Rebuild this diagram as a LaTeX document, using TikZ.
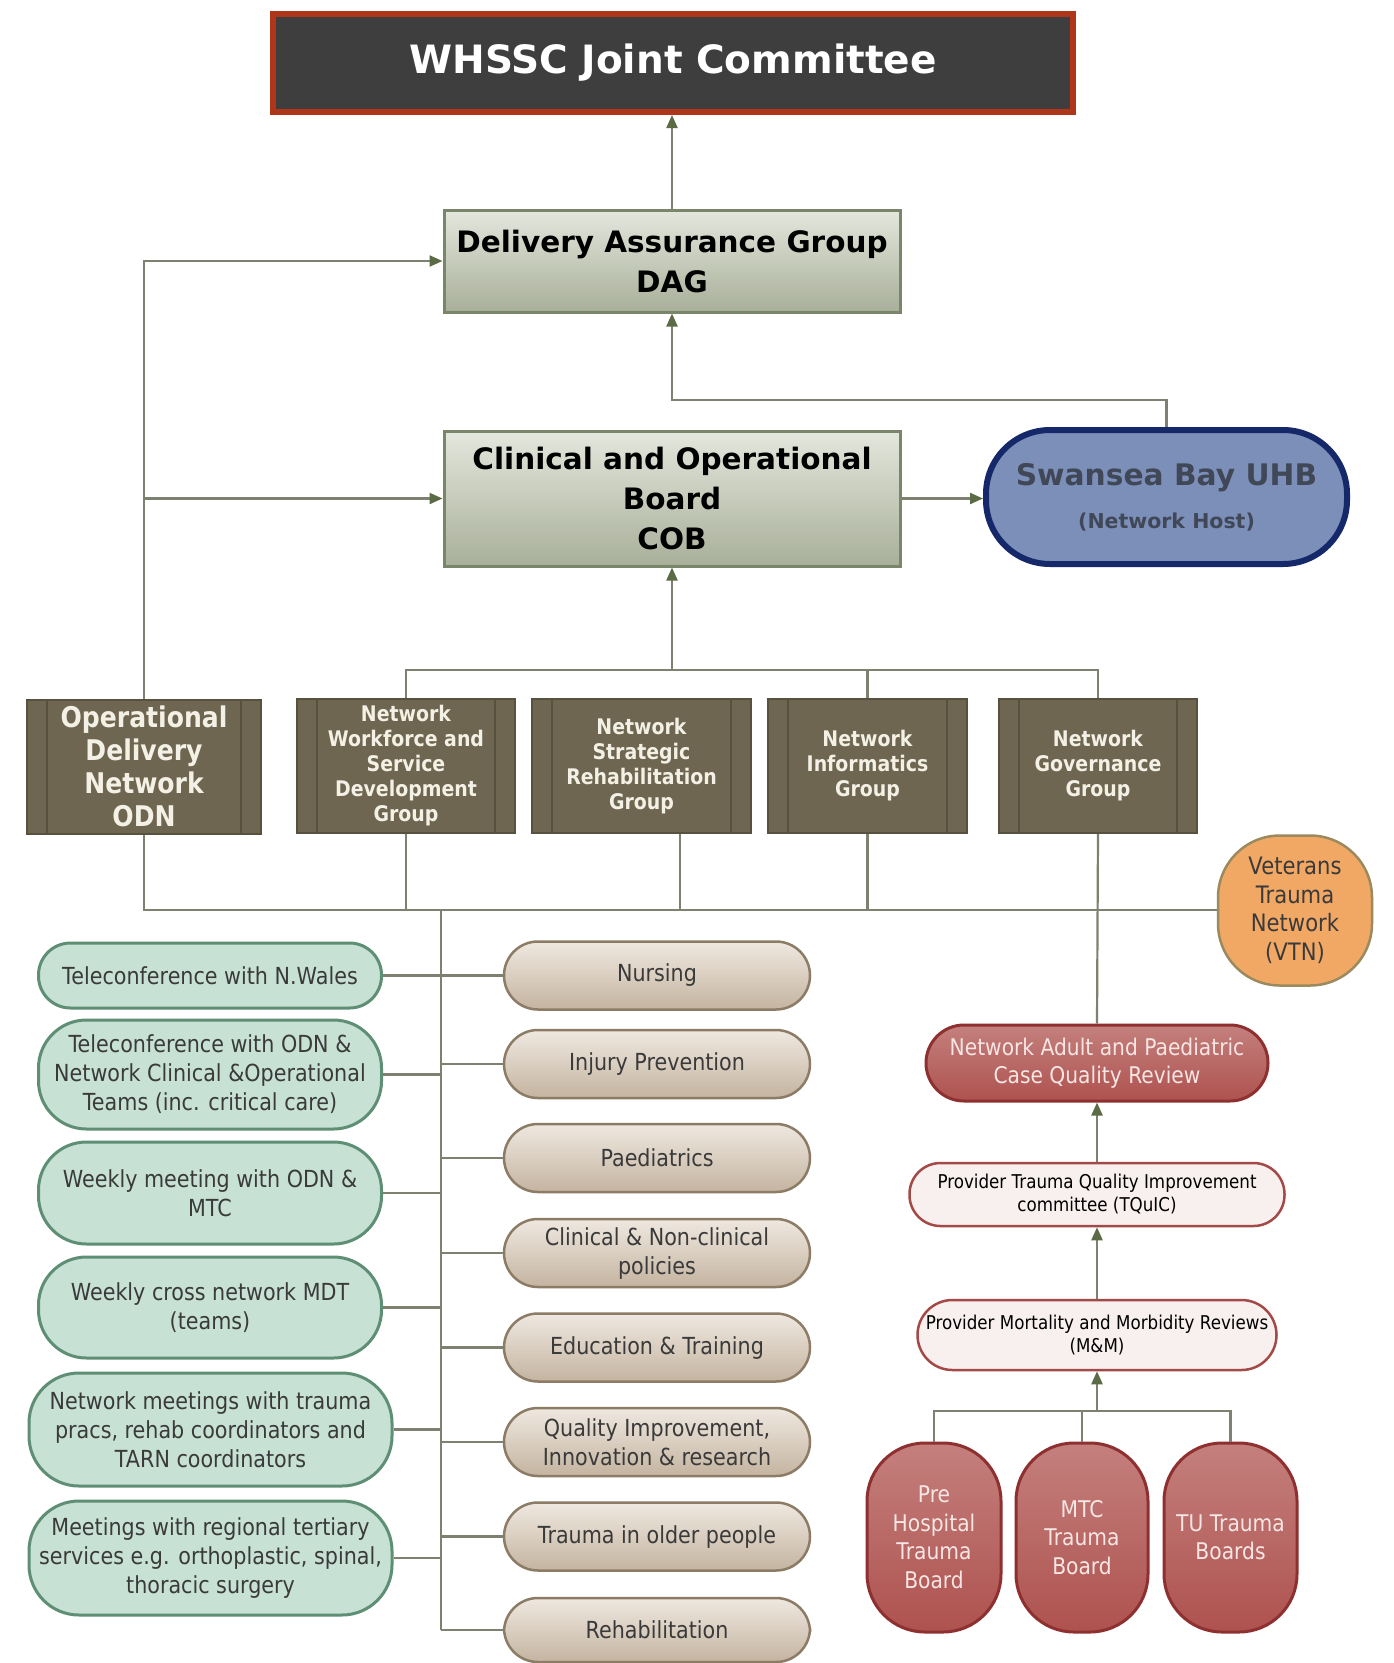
\documentclass[tikz,border=0pt]{standalone}
\usepackage{fontspec}
\setmainfont{DejaVu Sans}[FakeStretch=0.88]
\newfontfamily\widefont{DejaVu Sans}
\usetikzlibrary{arrows.meta}
\definecolor{linec}{HTML}{7D8270}
\definecolor{arrowc}{HTML}{5B6B45}
\definecolor{jcfill}{HTML}{3E3E3E}
\definecolor{jcborder}{HTML}{B0361A}
\definecolor{bdtop}{HTML}{E4E7DD}
\definecolor{bdbot}{HTML}{A8AF99}
\definecolor{bdborder}{HTML}{7A866A}
\definecolor{hostfill}{HTML}{7C8FB9}
\definecolor{hostborder}{HTML}{15286A}
\definecolor{hosttext}{HTML}{404757}
\definecolor{grpfill}{HTML}{6E6650}
\definecolor{grpborder}{HTML}{57513F}
\definecolor{grptext}{HTML}{F3F0E5}
\definecolor{greenfill}{HTML}{C7E1D5}
\definecolor{greenborder}{HTML}{5E8E74}
\definecolor{beigetop}{HTML}{EFE8E0}
\definecolor{beigebot}{HTML}{C4B4A0}
\definecolor{beigeborder}{HTML}{8C7C66}
\definecolor{bodytext}{HTML}{3A3A3A}
\definecolor{vtnfill}{HTML}{F2A865}
\definecolor{vtnborder}{HTML}{9A8A5E}
\definecolor{redtop}{HTML}{C4807D}
\definecolor{redbot}{HTML}{AE524F}
\definecolor{redborder}{HTML}{8F3030}
\definecolor{redtext}{HTML}{F5E6E4}
\definecolor{pinkfill}{HTML}{F8F0EF}
\definecolor{pinkborder}{HTML}{A34A48}
\tikzset{
  conn/.style={draw=linec, line width=2.2pt},
  arr/.style={conn, -{Triangle[length=13pt,width=11pt,color=arrowc]}},
  whssc/.style={draw=jcborder, fill=jcfill, line width=6pt, minimum width=800pt, minimum height=98pt,
    inner sep=0pt, text=white, font=\widefont\bfseries\fontsize{39}{44}\selectfont},
  board/.style={draw=bdborder, top color=bdtop, bottom color=bdbot, line width=3pt, minimum width=456pt,
    inner sep=0pt, align=center, text=black, font=\widefont\bfseries\fontsize{29.5}{40}\selectfont},
  host/.style={draw=hostborder, fill=hostfill, line width=6pt, rounded corners=64pt, minimum width=361pt,
    minimum height=134pt, inner sep=0pt, align=center, text=hosttext},
  grp/.style={draw=grpborder, fill=grpfill, line width=2pt, inner sep=0pt, align=center, text=grptext,
    minimum height=134pt, font=\bfseries\fontsize{21.5}{25}\selectfont,
    path picture={
      \draw[grpborder, line width=1.5pt] ([xshift=20pt]path picture bounding box.north west) -- ([xshift=20pt]path picture bounding box.south west);
      \draw[grpborder, line width=1.5pt] ([xshift=-20pt]path picture bounding box.north east) -- ([xshift=-20pt]path picture bounding box.south east);}},
  green/.style={draw=greenborder, fill=greenfill, line width=3pt, inner sep=0pt, align=center, text=bodytext,
    font=\fontsize{23.5}{29}\selectfont},
  beige/.style={draw=beigeborder, top color=beigetop, bottom color=beigebot, line width=2.5pt, inner sep=0pt,
    align=center, text=bodytext, minimum width=306pt, minimum height=68pt, rounded corners=34pt,
    font=\fontsize{23.5}{29}\selectfont},
  vtn/.style={draw=vtnborder, fill=vtnfill, line width=2.5pt, inner sep=0pt, align=center, text=bodytext,
    minimum width=154pt, minimum height=150pt, rounded corners=62pt, font=\fontsize{24}{28.6}\selectfont},
  redbox/.style={draw=redborder, top color=redtop, bottom color=redbot, line width=3pt, inner sep=0pt,
    align=center, text=redtext, font=\fontsize{23}{28.5}\selectfont},
  pink/.style={draw=pinkborder, fill=pinkfill, line width=2.5pt, inner sep=0pt, align=center, text=black,
    font=\fontsize{19}{23}\selectfont},
}
\begin{document}
\begin{tikzpicture}[x=1pt,y=-1pt]
\useasboundingbox (0,0) rectangle (1394,1663);
\fill[white] (0,0) rectangle (1394,1663);

% top level
\node[whssc] (jc) at (673,63) {WHSSC Joint Committee};
\node[board, minimum height=102pt] (dag) at (672,261) {Delivery Assurance Group\\DAG};
\node[board, minimum height=135pt] (cob) at (672,498.5) {Clinical and Operational\\Board\\COB};
\node[host] (host) at (1166.5,497) {{\widefont\bfseries\fontsize{29.7}{34}\selectfont Swansea Bay UHB}\\[20pt]{\widefont\bfseries\fontsize{20.5}{24}\selectfont (Network Host)}};

% groups
\node[grp, minimum width=234pt, font=\bfseries\fontsize{28.5}{33}\selectfont] (odn) at (144,766.5) {Operational\\Delivery\\Network\\ODN};
\node[grp, minimum width=218pt] (wf) at (406,766) {Network\\Workforce and\\Service\\Development\\Group};
\node[grp, minimum width=219pt] (sr) at (641.5,766) {Network\\Strategic\\Rehabilitation\\Group};
\node[grp, minimum width=199pt] (inf) at (867.5,766) {Network\\Informatics\\Group};
\node[grp, minimum width=198pt] (gov) at (1098,766) {Network\\Governance\\Group};
\node[vtn] (vtn) at (1295,910.5) {Veterans\\Trauma\\Network\\(VTN)};

% green pills
\node[green, minimum width=343pt, minimum height=65pt, rounded corners=32pt] (g1) at (210,975.5) {Teleconference with N.Wales};
\node[green, minimum width=343pt, minimum height=109pt, rounded corners=48pt] (g2) at (210,1074.5) {Teleconference with ODN \&\\Network Clinical \&Operational\\Teams (inc. critical care)};
\node[green, minimum width=343pt, minimum height=102pt, rounded corners=48pt] (g3) at (210,1193) {Weekly meeting with ODN \&\\MTC};
\node[green, minimum width=343pt, minimum height=101pt, rounded corners=48pt] (g4) at (210,1307.5) {Weekly cross network MDT\\(teams)};
\node[green, minimum width=363pt, minimum height=113pt, rounded corners=50pt] (g5) at (210.5,1429.5) {Network meetings with trauma\\pracs, rehab coordinators and\\TARN coordinators};
\node[green, minimum width=363pt, minimum height=114pt, rounded corners=50pt] (g6) at (210.5,1558) {Meetings with regional tertiary\\services e.g. orthoplastic, spinal,\\thoracic surgery};

% beige pills
\node[beige] (b1) at (657,975.5) {Nursing};
\node[beige] (b2) at (657,1064) {Injury Prevention};
\node[beige] (b3) at (657,1158) {Paediatrics};
\node[beige] (b4) at (657,1253) {Clinical \& Non-clinical\\policies};
\node[beige] (b5) at (657,1347.5) {Education \& Training};
\node[beige] (b6) at (657,1442) {Quality Improvement,\\Innovation \& research};
\node[beige] (b7) at (657,1536.5) {Trauma in older people};
\node[beige, minimum height=64pt] (b8) at (657,1630) {Rehabilitation};

% right column
\node[redbox, minimum width=342pt, minimum height=76pt, rounded corners=38pt] (nar) at (1097,1063) {Network Adult and Paediatric\\Case Quality Review};
\node[pink, minimum width=375pt, minimum height=63pt, rounded corners=31pt] (tq) at (1097,1194.5) {Provider Trauma Quality Improvement\\committee (TQuIC)};
\node[pink, minimum width=359pt, minimum height=70pt, rounded corners=35pt] (mm) at (1097,1335) {Provider Mortality and Morbidity Reviews\\(M\&M)};
\node[redbox, minimum width=134pt, minimum height=189pt, rounded corners=58pt] (ph) at (934,1537.5) {Pre\\Hospital\\Trauma\\Board};
\node[redbox, minimum width=132pt, minimum height=189pt, rounded corners=58pt] (mtc) at (1082,1537.5) {MTC\\Trauma\\Board};
\node[redbox, minimum width=133pt, minimum height=189pt, rounded corners=58pt] (tu) at (1230.5,1537.5) {TU Trauma\\Boards};

% connectors top
\draw[arr] (dag.north) -- (dag.north |- jc.south);
\draw[arr] (odn.north) |- (dag.west);
\draw[arr] (odn.north |- cob.west) -- (cob.west);
\draw[arr] (cob.east) -- (cob.east -| host.west);
\coordinate (hj) at (1166.5,400);
\draw[arr] (host.north) -- (hj) -| (dag.south);
\coordinate (tb) at (672,670);
\draw[arr] (tb) -- (cob.south);
\draw[conn] (wf.north) -- (wf.north |- tb) -- (gov.north |- tb) -- (gov.north);
\draw[conn] (inf.north) -- (inf.north |- tb);

% lower bus
\coordinate (lb) at (143,910);
\draw[conn] (odn.south) -- (odn.south |- lb) -- (lb -| vtn.west);
\draw[conn] (wf.south) -- (wf.south |- lb);
\path ([xshift=38.5pt]sr.south) coordinate (srb);
\draw[conn] (srb) -- (srb |- lb);
\draw[conn] (inf.south) -- (inf.south |- lb);
\draw[conn] (gov.south) -- (nar.north);

% spine
\coordinate (sp) at (441,910);
\draw[conn] (sp) -- (sp |- b8.west);
\foreach \g in {g1,g2,g3,g4,g5,g6} \draw[conn] (\g.east) -- (\g.east -| sp);
\foreach \b in {b1,b2,b3,b4,b5,b6,b7,b8} \draw[conn] (\b.west -| sp) -- (\b.west);

% right column connectors
\draw[arr] (tq.north) -- (nar.south);
\draw[arr] (mm.north) -- (tq.south);
\coordinate (rb) at (1097,1411);
\draw[arr] (rb) -- (mm.south);
\draw[conn] (ph.north) -- (ph.north |- rb) -- (tu.north |- rb) -- (tu.north);
\draw[conn] (mtc.north) -- (mtc.north |- rb);
\end{tikzpicture}
\end{document}
